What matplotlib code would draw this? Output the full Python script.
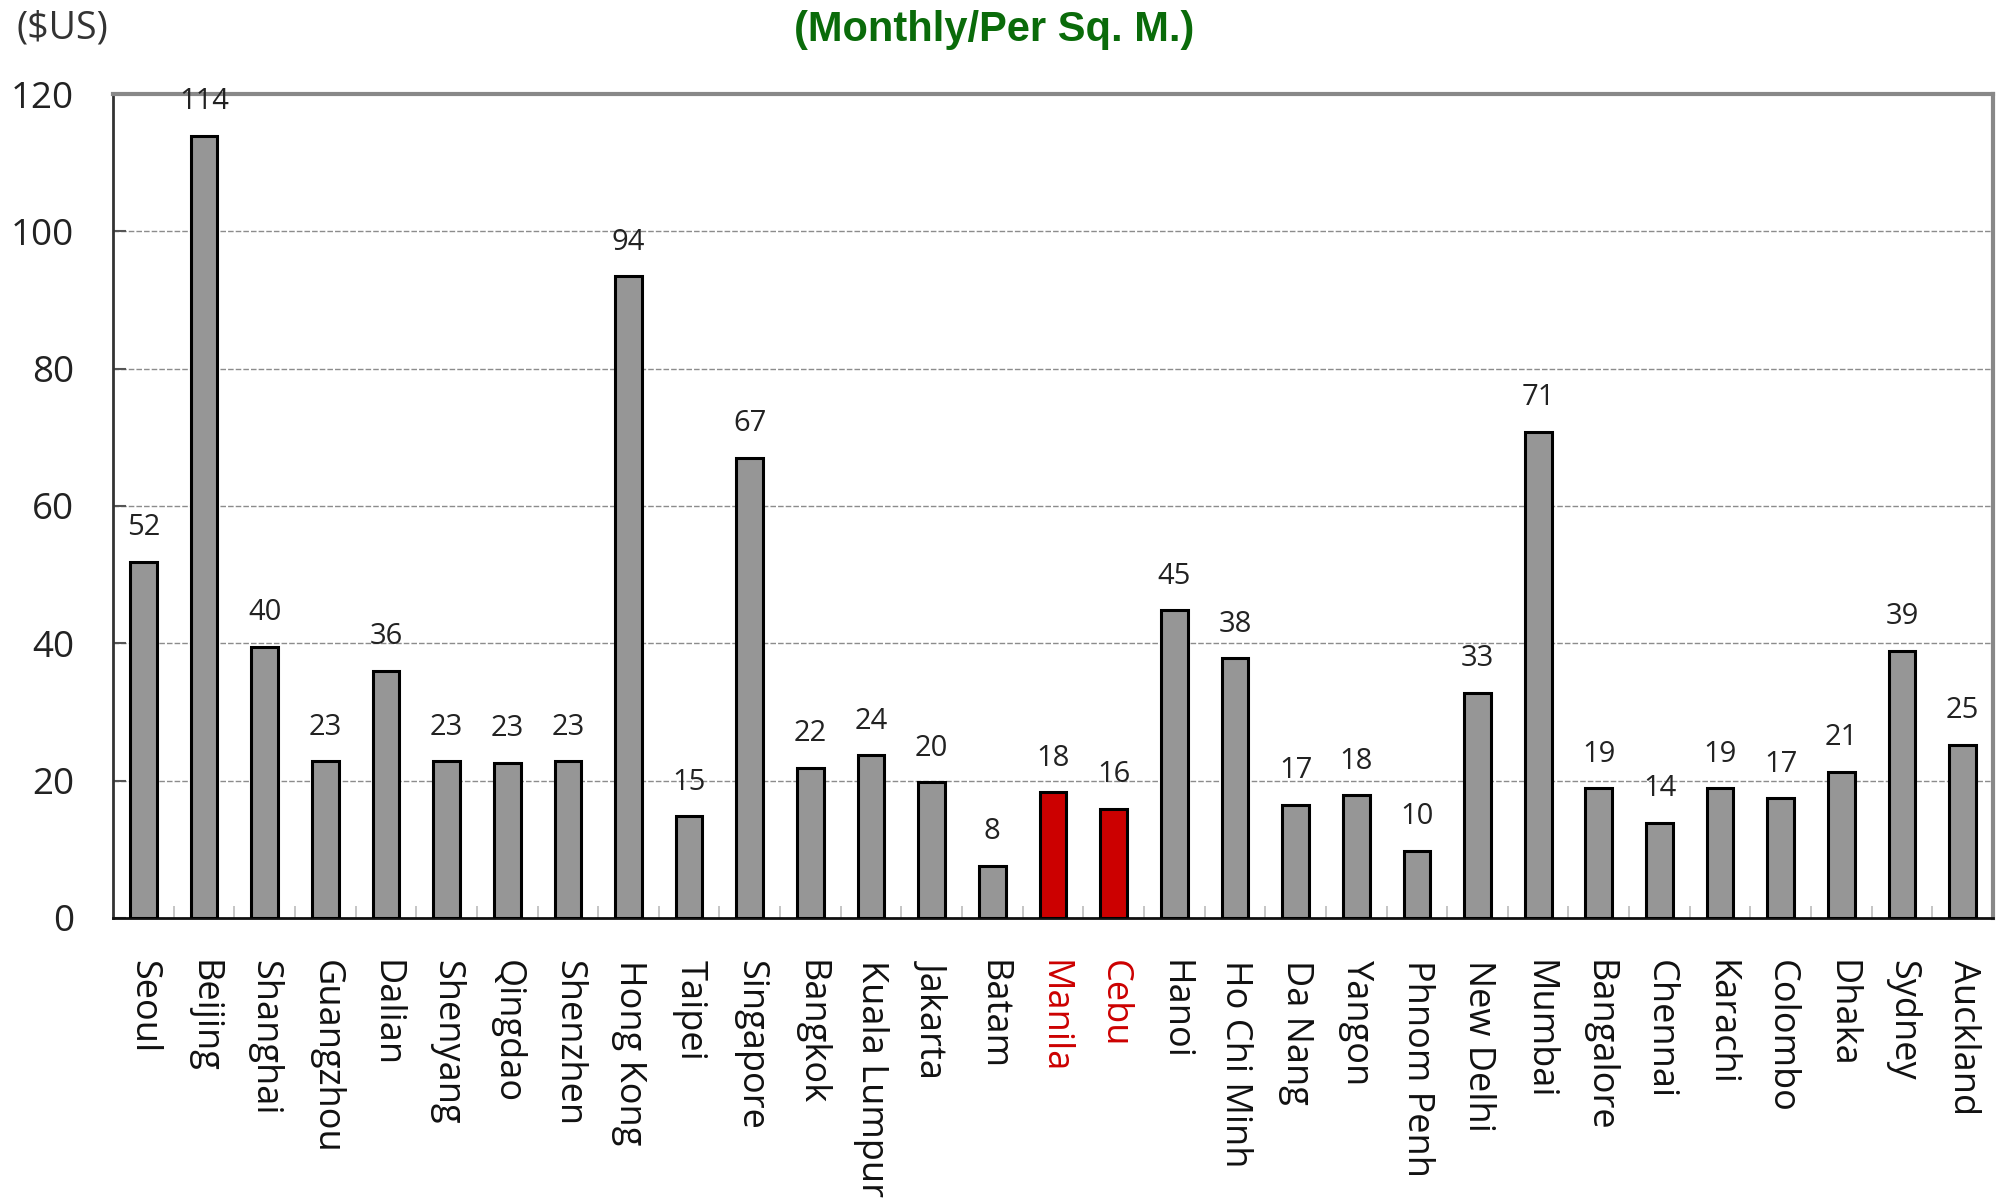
import matplotlib
matplotlib.use("Agg")
import matplotlib.pyplot as plt
from matplotlib.ticker import FixedLocator
import numpy as np

cities = ["Seoul", "Beijing", "Shanghai", "Guangzhou", "Dalian", "Shenyang", "Qingdao",
          "Shenzhen", "Hong Kong", "Taipei", "Singapore", "Bangkok", "Kuala Lumpur",
          "Jakarta", "Batam", "Manila", "Cebu", "Hanoi", "Ho Chi Minh", "Da Nang",
          "Yangon", "Phnom Penh", "New Delhi", "Mumbai", "Bangalore", "Chennai",
          "Karachi", "Colombo", "Dhaka", "Sydney", "Auckland"]
rents = [51.9, 113.9, 39.5, 22.8, 36.0, 22.8, 22.6, 22.8, 93.5, 14.8, 67.0, 21.9, 23.7,
         19.8, 7.6, 18.3, 15.9, 44.8, 37.8, 16.5, 17.9, 9.8, 32.8, 70.8, 18.9, 13.9,
         18.9, 17.4, 21.3, 38.9, 25.2]
rent_labels = ["52", "114", "40", "23", "36", "23", "23", "23", "94", "15", "67", "22",
               "24", "20", "8", "18", "16", "45", "38", "17", "18", "10", "33", "71",
               "19", "14", "19", "17", "21", "39", "25"]
highlight = ["Manila", "Cebu"]
y_ticks = [0, 20, 40, 60, 80, 100, 120]

GRAY = "#969696"
RED = "#cc0000"
font = "Open Sans"

fig = plt.figure(figsize=(19.97, 11.99), dpi=100)
ax = fig.add_axes([0.0566, 0.2344, 0.9414, 0.6872])

x = np.arange(len(cities))
colors = [RED if c in highlight else GRAY for c in cities]
ax.bar(x, rents, width=0.44, color=colors, edgecolor="black", linewidth=2.2, zorder=3)

for xi, v, lab in zip(x, rents, rent_labels):
    ax.annotate(lab, (xi, v), xytext=(0, 14), textcoords="offset points",
                ha="center", va="bottom", fontsize=21, family=font, color="#222222")

ax.set_xlim(-0.5, len(cities) - 0.5)
ax.set_ylim(0, 120)
ax.set_yticks(y_ticks)
ax.set_yticklabels([str(t) for t in y_ticks], fontsize=26.5, family=font, color="#222222")
ax.tick_params(axis="y", direction="in", length=9, width=1.5, color="#555555", pad=28)

ax.set_xticks(x)
ax.set_xticklabels(cities, rotation=-90, fontsize=26, family=font, color="#111111")
for lbl in ax.get_xticklabels():
    if lbl.get_text() in highlight:
        lbl.set_color(RED)
ax.tick_params(axis="x", which="major", length=0, pad=30)
ax.xaxis.set_minor_locator(FixedLocator(np.arange(0.5, len(cities) - 1, 1.0)))
ax.tick_params(axis="x", which="minor", direction="in", length=9, width=1.2, color="#bbbbbb")

ax.yaxis.grid(True, color="#8c8c8c", linewidth=1.0, linestyle=(0, (4, 1.5)), zorder=0)
ax.set_axisbelow(True)

ax.spines["left"].set_color("#333333")
ax.spines["left"].set_linewidth(2.0)
ax.spines["bottom"].set_color("#111111")
ax.spines["bottom"].set_linewidth(2.0)
ax.spines["top"].set_color("#888888")
ax.spines["top"].set_linewidth(3.0)
ax.spines["right"].set_color("#888888")
ax.spines["right"].set_linewidth(3.0)

fig.text(0.0085, 0.976, "($US)", fontsize=27, family=font, color="#333333", ha="left", va="center")
fig.text(0.498, 0.975, "(Monthly/Per Sq. M.)", fontsize=30, family="Liberation Sans",
         fontweight="bold", color="#0a6b0a", ha="center", va="center")

fig.savefig("out.png", dpi=100, facecolor="white")
